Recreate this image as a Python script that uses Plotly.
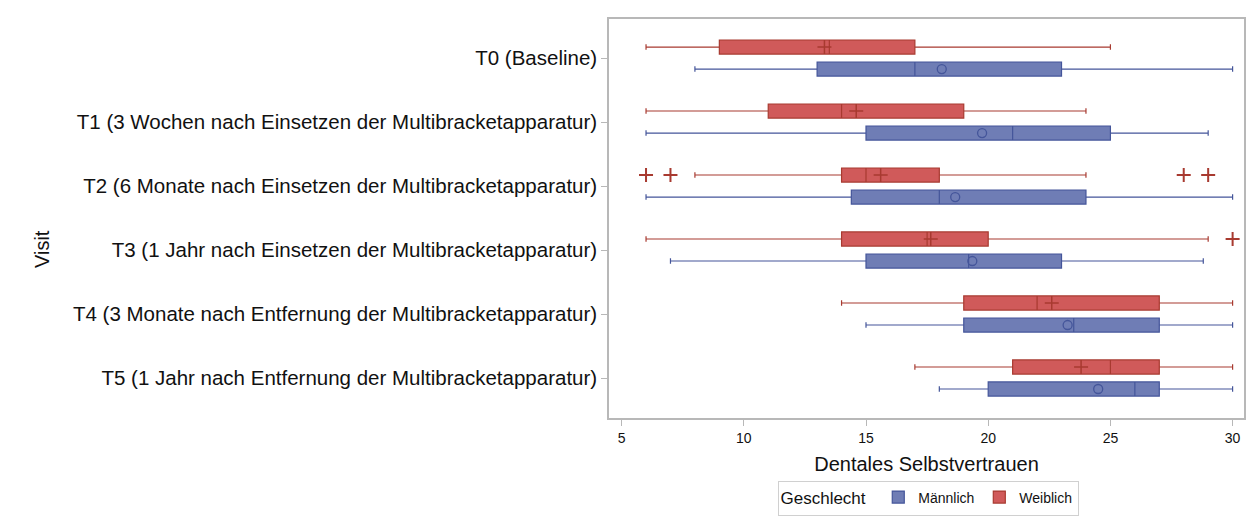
import plotly.graph_objects as go

visits = [
    "T0 (Baseline)",
    "T1 (3 Wochen nach Einsetzen der Multibracketapparatur)",
    "T2 (6 Monate nach Einsetzen der Multibracketapparatur)",
    "T3 (1 Jahr nach Einsetzen der Multibracketapparatur)",
    "T4 (3 Monate nach Entfernung der Multibracketapparatur)",
    "T5 (1 Jahr nach Entfernung der Multibracketapparatur)",
]

# Männlich
m_low = [8, 6, 6, 7, 15, 18]
m_q1 = [13, 15, 14.4, 15, 19, 20]
m_med = [17, 21, 18, 19.2, 23.5, 26]
m_q3 = [23, 25, 24, 23, 27, 27]
m_high = [30, 29, 30, 28.8, 30, 30]
m_mean = [18.1, 19.75, 18.65, 19.35, 23.25, 24.5]

# Weiblich
w_low = [6, 6, 8, 6, 14, 17]
w_q1 = [9, 11, 14, 14, 19, 21]
w_med = [13.5, 14, 15, 17.5, 22, 25]
w_q3 = [17, 19, 18, 20, 27, 27]
w_high = [25, 24, 24, 29, 30, 30]
w_mean = [13.3, 14.6, 15.6, 17.65, 22.6, 23.8]

# Weiblich outliers: (visit index, value)
w_out_visit = [2, 2, 2, 2, 3]
w_out_value = [6, 7, 28, 29, 30]

n = len(visits)
OFF = 0.172
BW = 0.22
center = [n - 1 - i for i in range(n)]
pos_m = [c - OFF for c in center]
pos_w = [c + OFF for c in center]

BLUE_FILL = "#6f7db5"
BLUE_LINE = "#44559a"
RED_FILL = "#d05a5a"
RED_LINE = "#a83a30"

fig = go.Figure()

fig.add_trace(go.Box(
    name="Männlich", orientation="h", y=pos_m,
    q1=m_q1, median=m_med, q3=m_q3, lowerfence=m_low, upperfence=m_high,
    width=BW, whiskerwidth=0.4, fillcolor=BLUE_FILL,
    line=dict(color=BLUE_LINE, width=1.2), boxpoints=False,
    hoverinfo="skip",
))
fig.add_trace(go.Box(
    name="Weiblich", orientation="h", y=pos_w,
    q1=w_q1, median=w_med, q3=w_q3, lowerfence=w_low, upperfence=w_high,
    width=BW, whiskerwidth=0.4, fillcolor=RED_FILL,
    line=dict(color=RED_LINE, width=1.2), boxpoints=False,
    hoverinfo="skip",
))

fig.add_trace(go.Scatter(
    x=m_mean, y=pos_m, mode="markers", showlegend=False,
    marker=dict(symbol="circle-open", size=9, color=BLUE_LINE, line=dict(width=1.3)),
))
fig.add_trace(go.Scatter(
    x=w_mean, y=pos_w, mode="markers", showlegend=False,
    marker=dict(symbol="cross-thin-open", size=10, color=RED_LINE, line=dict(width=1.5, color=RED_LINE)),
))
fig.add_trace(go.Scatter(
    x=w_out_value, y=[center[i] + OFF for i in w_out_visit], mode="markers", showlegend=False,
    marker=dict(symbol="cross-thin-open", size=10, color=RED_LINE, line=dict(width=2, color=RED_LINE)),
))

# page has an 8px body margin; target screen pixels: plot x 609..1244, y 19..418
OFS = 8
SW, SH = 1255, 518
W, H = SW - OFS, SH - OFS
L = 609 - OFS
T = 19 - OFS
R = SW - 1244
B = SH - 418
pw = W - L - R
ph = H - T - B

def px(x):
    # screen x -> paper
    return (x - 609) / pw

def py(y):
    # screen y -> paper
    return (418 - y) / ph

fig.update_layout(
    width=W, height=H,
    margin=dict(l=L, r=R, t=T, b=B, autoexpand=False),
    paper_bgcolor="white", plot_bgcolor="white",
    font=dict(family="Arial, Liberation Sans, sans-serif", color="#111111"),
    boxmode="overlay",
    showlegend=True,
    legend=dict(
        orientation="h", x=px(928), xanchor="center", y=py(498), yanchor="middle",
        title=dict(text="Geschlecht ", font=dict(size=17), side="left"),
        font=dict(size=14), bordercolor="#d0d0d0", borderwidth=1,
        itemwidth=30, tracegroupgap=0,
    ),
    xaxis=dict(
        range=[4.485, 30.466], tickvals=[5, 10, 15, 20, 25, 30],
        showgrid=False, zeroline=False,
        showline=True, mirror=True, linecolor="#b8b8b8", linewidth=1.5,
        ticks="outside", ticklen=6, tickcolor="#b8b8b8",
        tickfont=dict(size=14),
        title=dict(text="Dentales Selbstvertrauen", font=dict(size=20), standoff=12),
    ),
    yaxis=dict(
        range=[-0.625, 5.61], tickvals=center, ticktext=visits,
        showgrid=False, zeroline=False,
        showline=True, mirror=True, linecolor="#b8b8b8", linewidth=1.5,
        ticks="outside", ticklen=6, tickcolor="#b8b8b8",
        tickfont=dict(size=20.5),
    ),
    annotations=[dict(
        text="Visit", textangle=-90, x=px(42), y=py(249), xref="paper", yref="paper",
        showarrow=False, font=dict(size=20), xanchor="center", yanchor="middle",
    )],
    shapes=[
        dict(type="line", xref="paper", yref="paper", x0=px(7), x1=px(1255), y0=py(6), y1=py(6),
             line=dict(color="#e2e2e2", width=2)),
        dict(type="line", xref="paper", yref="paper", x0=px(7), x1=px(7), y0=py(6), y1=py(518),
             line=dict(color="#e2e2e2", width=2)),
    ],
)

fig.write_html("out.html")
